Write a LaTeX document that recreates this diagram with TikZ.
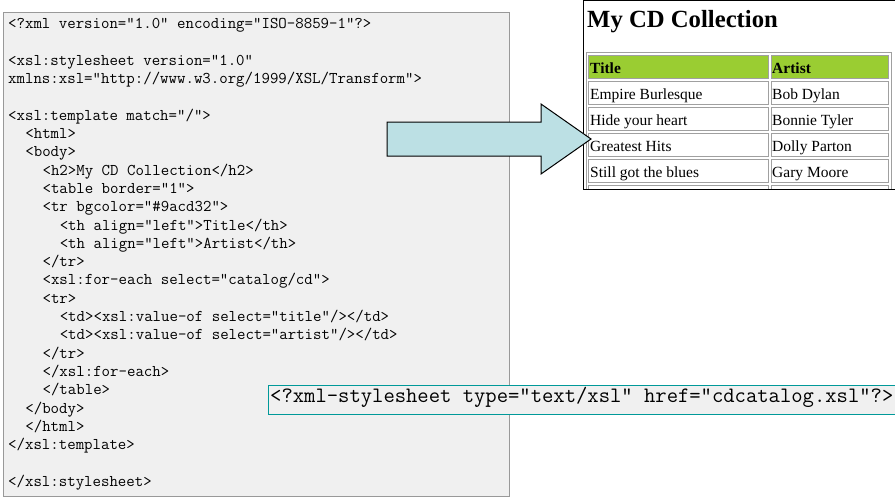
\documentclass[tikz,border=0pt]{standalone}
\usepackage{fontspec}
\setmainfont{Liberation Serif}
\definecolor{codebg}{HTML}{F0F0F0}
\definecolor{codeframe}{HTML}{999999}
\definecolor{tealframe}{HTML}{009999}
\definecolor{arrowfill}{HTML}{BCE0E4}
\definecolor{headgreen}{HTML}{9ACD32}
\definecolor{cellframe}{HTML}{A0A0A0}
\tikzset{
  code/.style={anchor=base west, inner sep=0pt, font=\ttfamily\fontsize{16.4}{18}\selectfont},
  pi/.style={anchor=base west, inner sep=0pt, font=\ttfamily\fontsize{22}{23}\selectfont},
  cell/.style={draw=cellframe, line width=1pt},
  celltext/.style={anchor=base west, inner sep=0pt, font=\fontsize{15.5}{17}\selectfont},
  headtext/.style={anchor=base west, inner sep=0pt, font=\bfseries\fontsize{15.5}{17}\selectfont},
}
\begin{document}
\begin{tikzpicture}[x=1pt,y=-1pt]
\useasboundingbox (0,0) rectangle (895,501);
% code box
\draw[fill=codebg, draw=codeframe, line width=1pt] (3.5,12.5) rectangle (509,496);
\node[code] (l1)  at (8,28.5)   {<?xml version="1.0" encoding="ISO-8859-1"?>};
\node[code] (l3)  at (8,65.14)  {<xsl:stylesheet version="1.0"};
\node[code] (l4)  at (8,83.46)  {xmlns:xsl="http://www.w3.org/1999/XSL/Transform">};
\node[code] (l6)  at (8,120.1)  {<xsl:template match="/">};
\node[code] (l7)  at (25.2,138.42) {<html>};
\node[code] (l8)  at (25.2,156.74) {<body>};
\node[code] (l9)  at (42.4,175.06) {<h2>My CD Collection</h2>};
\node[code] (l10) at (42.4,193.38) {<table border="1">};
\node[code] (l11) at (42.4,211.7)  {<tr bgcolor="\#9acd32">};
\node[code] (l12) at (59.6,230.02) {<th align="left">Title</th>};
\node[code] (l13) at (59.6,248.34) {<th align="left">Artist</th>};
\node[code] (l14) at (42.4,266.66) {</tr>};
\node[code] (l15) at (42.4,284.98) {<xsl:for-each select="catalog/cd">};
\node[code] (l16) at (42.4,303.3)  {<tr>};
\node[code] (l17) at (59.6,321.62) {<td><xsl:value-of select="title"/></td>};
\node[code] (l18) at (59.6,339.94) {<td><xsl:value-of select="artist"/></td>};
\node[code] (l19) at (42.4,358.26) {</tr>};
\node[code] (l20) at (42.4,376.58) {</xsl:for-each>};
\node[code] (l21) at (42.4,394.9)  {</table>};
\node[code] (l22) at (25.2,413.22) {</body>};
\node[code] (l23) at (25.2,431.54) {</html>};
\node[code] (l24) at (8,449.86)  {</xsl:template>};
\node[code] (l26) at (8,486.5)   {</xsl:stylesheet>};
% output box
\draw[fill=white, draw=black, line width=1pt] (583.5,0.5) rectangle (900,189);
\node[anchor=base west, inner sep=0pt, font=\bfseries\fontsize{24.7}{27}\selectfont] (title) at (587,27) {My CD Collection};
\begin{scope}
\clip (584,1) rectangle (895,188.5);
\draw[cellframe, line width=1pt] (586.5,52.5) rectangle (891,200);
\draw[cell, fill=headgreen] (588.5,55.5) rectangle (768,78);
\draw[cell, fill=headgreen] (771.5,55.5) rectangle (888,78);
\foreach \t in {81,107,133,159,185}{
  \draw[cell] (588.5,\t+0.5) rectangle (768,\t+23);
  \draw[cell] (771.5,\t+0.5) rectangle (888,\t+23);
}
\end{scope}
\node[headtext] (h1) at (590,73) {Title};
\node[headtext] (h2) at (772,73) {Artist};
\node[celltext] (a1) at (590,99.5)  {Empire Burlesque};
\node[celltext] (b1) at (772,99.5)  {Bob Dylan};
\node[celltext] (a2) at (590,125.5) {Hide your heart};
\node[celltext] (b2) at (772,125.5) {Bonnie Tyler};
\node[celltext] (a3) at (590,151.5) {Greatest Hits};
\node[celltext] (b3) at (772,151.5) {Dolly Parton};
\node[celltext] (a4) at (590,177.5) {Still got the blues};
\node[celltext] (b4) at (772,177.5) {Gary Moore};
% block arrow
\draw[fill=arrowfill, draw=black, line width=1pt, line join=miter]
  (387,122) -- (541,122) -- (541,104) -- (591,139) -- (541,174) -- (541,156) -- (387,156) -- cycle;
% stylesheet PI box
\draw[fill=codebg, draw=tealframe, line width=1pt] (268.5,385.5) rectangle (900,414);
\node[pi] (pi) at (270,402) {<?xml-stylesheet type="text/xsl" href="cdcatalog.xsl"?>};
\end{tikzpicture}
\end{document}
